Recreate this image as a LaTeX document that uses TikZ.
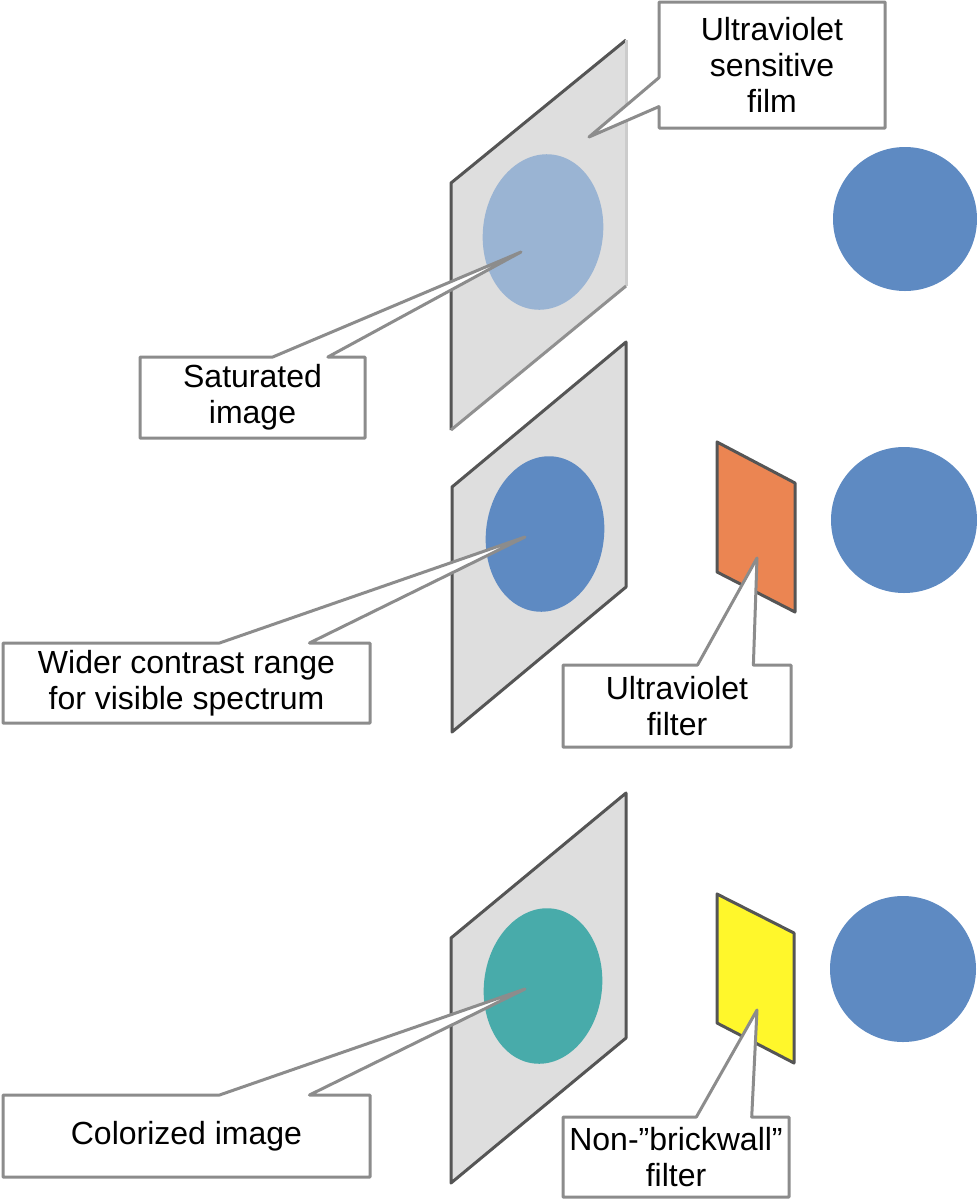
\documentclass[tikz,border=0pt]{standalone}
\usepackage{fontspec}
\setmainfont{Liberation Sans}
\usetikzlibrary{calc}
\definecolor{filmgray}{HTML}{DEDEDE}
\definecolor{filmedge}{HTML}{555555}
\definecolor{calloutgray}{HTML}{8C8C8C}
\definecolor{paleblue}{HTML}{9AB4D3}
\definecolor{spotblue}{HTML}{5E8AC2}
\definecolor{spotteal}{HTML}{48ABAA}
\definecolor{uvorange}{HTML}{EB8552}
\definecolor{softyellow}{HTML}{FFF72B}
\pgfdeclarelayer{boxes}
\pgfdeclarelayer{texts}
\pgfsetlayers{main,boxes,texts}
% callout box with its pointer on the top side
\newcommand{\topcallout}[2]{%
  \draw[callout] (#1.north west) -- ($(#1.north west)!0.59!(#1.north east)$) -- (#2)
    -- ($(#1.north west)!0.835!(#1.north east)$) -- (#1.north east)
    -- (#1.south east) -- (#1.south west) -- cycle;}

\begin{document}
\begin{tikzpicture}
  [
    x=0.5pt, y=-0.5pt,
    film/.style =
      {fill=filmgray, draw=filmedge, line width=1.5pt, line join=round},
    filterpane/.style =
      {draw=filmedge, line width=1.5pt, line join=round},
    boxtext/.style =
      {align=center, inner sep=0pt, outer sep=0pt, font=\fontsize{16}{18}\selectfont},
    callout/.style =
      {draw=calloutgray, fill=white, line width=1.5pt, line join=round}
  ]
  \useasboundingbox (0,0) rectangle (977,1200);

  % films
  \fill[filmgray] (451,183) -- (626,40) -- (626,286) -- (451,430) -- cycle;
  \draw[line width=1.5pt, draw=filmedge, line join=round] (451,430) -- (451,183) -- (626,40);
  \draw[line width=1.5pt, draw=filmedge!30] (626,40) -- (626,286);
  \draw[line width=1.5pt, draw=filmedge!65] (626,286) -- (451,430);
  \draw[film] (452,487) -- (626,342) -- (626,587) -- (452,732) -- cycle;
  \draw[film] (451,938) -- (626,793) -- (626,1038) -- (451,1183) -- cycle;

  % spots on the films
  \fill[paleblue, rotate around={-7:(543,232)}] (543,232) ellipse [x radius=30pt, y radius=39pt];
  \fill[spotblue, rotate around={-7:(545,534)}] (545,534) ellipse [x radius=29.5pt, y radius=39pt];
  \fill[spotteal, rotate around={-7:(543,986)}] (543,986) ellipse [x radius=29.5pt, y radius=39pt];

  % filters
  \draw[filterpane, fill=uvorange]   (717,442) -- (795,483) -- (795,612) -- (717,572) -- cycle;
  \draw[filterpane, fill=softyellow] (717,894) -- (794,933) -- (794,1063) -- (717,1023) -- cycle;

  % sources
  \fill[spotblue] (905,219) circle [radius=36pt];
  \fill[spotblue] (904,520) circle [radius=36.5pt];
  \fill[spotblue] (903,969) circle [radius=36.5pt];

  % pointer tips
  \coordinate (tfilm)   at (589,137);
  \coordinate (tsat)    at (521,252);
  \coordinate (twider)  at (525,537);
  \coordinate (tuv)     at (757,558);
  \coordinate (tcolor)  at (525,989);
  \coordinate (tbrick)  at (757,1010);

  \begin{pgfonlayer}{texts}
  \node [boxtext, minimum width=113pt,   minimum height=63pt]   at (772,65)      (uvfilm)   {Ultraviolet\\sensitive\\film};
  \node [boxtext, minimum width=112.5pt, minimum height=40.5pt] at (252.5,397.5) (sat)      {Saturated\\image};
  \node [boxtext, minimum width=183.5pt, minimum height=40pt]   at (186.5,683)   (wider)    {Wider contrast range\\for visible spectrum};
  \node [boxtext, minimum width=114pt,   minimum height=41pt]   at (677,706)     (uvfilter) {Ultraviolet\\filter};
  \node [boxtext, minimum width=183.5pt, minimum height=41pt]   at (186.5,1136)  (color)    {Colorized image};
  \node [boxtext, minimum width=113pt,   minimum height=40pt]   at (676,1157)    (brick)    {Non-”brickwall”\\filter};
  \end{pgfonlayer}

  \begin{pgfonlayer}{boxes}
  \draw[callout] (uvfilm.north west) -- (uvfilm.north east) -- (uvfilm.south east)
    -- (uvfilm.south west) -- ($(uvfilm.north west)!0.83!(uvfilm.south west)$) -- (tfilm)
    -- ($(uvfilm.north west)!0.60!(uvfilm.south west)$) -- cycle;
  \topcallout{sat}{tsat}
  \topcallout{wider}{twider}
  \topcallout{uvfilter}{tuv}
  \topcallout{color}{tcolor}
  \topcallout{brick}{tbrick}
  \end{pgfonlayer}

\end{tikzpicture}
\end{document}
